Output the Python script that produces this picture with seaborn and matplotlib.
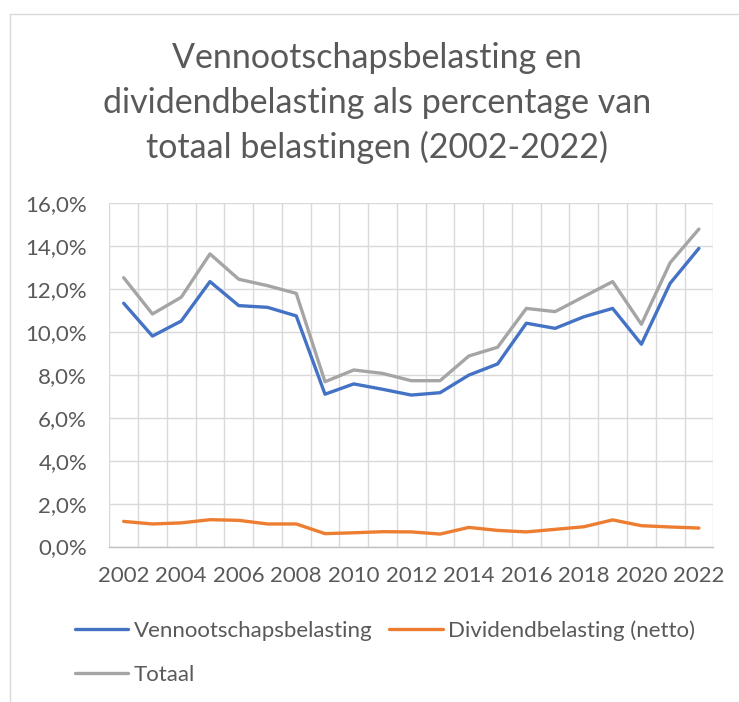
import matplotlib
matplotlib.use("Agg")
import matplotlib.pyplot as plt
from matplotlib.lines import Line2D
from matplotlib.ticker import FuncFormatter, MultipleLocator
import numpy as np
import pandas as pd
import seaborn as sns

# ---- data (percent of total taxes) ----
years = list(range(2002, 2023))
vennootschapsbelasting = [11.34, 9.81, 10.51, 12.35, 11.23, 11.15, 10.75, 7.10, 7.58, 7.33, 7.06,
                          7.17, 7.99, 8.51, 10.41, 10.17, 10.71, 11.10, 9.43, 12.27, 13.90]
dividendbelasting = [1.17, 1.05, 1.10, 1.25, 1.22, 1.05, 1.05, 0.60, 0.64, 0.69, 0.68,
                     0.58, 0.89, 0.75, 0.68, 0.80, 0.92, 1.24, 0.97, 0.91, 0.86]
totaal = [12.53, 10.84, 11.62, 13.64, 12.46, 12.16, 11.80, 7.68, 8.23, 8.07, 7.73,
          7.73, 8.88, 9.29, 11.10, 10.95, 11.65, 12.35, 10.36, 13.23, 14.80]
series_names = ["Vennootschapsbelasting", "Dividendbelasting (netto)", "Totaal"]
title_lines = ["Vennootschapsbelasting en",
               "dividendbelasting als percentage van",
               "totaal belastingen (2002-2022)"]

df = pd.DataFrame({
    "jaar": years * 3,
    "waarde": vennootschapsbelasting + dividendbelasting + totaal,
    "reeks": [series_names[0]] * len(years) + [series_names[1]] * len(years) + [series_names[2]] * len(years),
})

sns.set_theme(style="white")
plt.rcParams["font.family"] = ["Lato", "DejaVu Sans"]
TXT = "#595959"
GRID = "#D9D9D9"
palette = {series_names[0]: "#4472C4", series_names[1]: "#ED7D31", series_names[2]: "#A5A5A5"}

W, H = 739, 702
fig = plt.figure(figsize=(W / 100, H / 100), dpi=100)
fig.patch.set_facecolor("white")

x0, x1 = 109.3, 713.3
y0, y1 = 203.3, 546.5
ax = fig.add_axes([x0 / W, 1 - y1 / H, (x1 - x0) / W, (y1 - y0) / H])

sns.lineplot(data=df, x="jaar", y="waarde", hue="reeks", palette=palette,
             hue_order=series_names, linewidth=2.4, ax=ax, zorder=3,
             solid_capstyle="round", solid_joinstyle="round")

ax.set_xlim(years[0] - 0.5, years[-1] + 0.5)
ax.set_ylim(0, 16)
ax.xaxis.set_major_locator(MultipleLocator(2))
ax.xaxis.set_minor_locator(MultipleLocator(1, offset=0.5))
ax.yaxis.set_major_locator(MultipleLocator(2))
ax.yaxis.set_major_formatter(FuncFormatter(lambda v, p: f"{v:.1f}%".replace(".", ",")))
ax.xaxis.set_major_formatter(FuncFormatter(lambda v, p: f"{int(round(v))}"))

ax.grid(False)
ax.grid(True, axis="y", which="major", color=GRID, linewidth=1.0)
ax.grid(True, axis="x", which="minor", color=GRID, linewidth=1.0)
ax.set_axisbelow(True)
for s in ["top", "right", "left"]:
    ax.spines[s].set_visible(False)
ax.spines["bottom"].set_color("#BFBFBF")
ax.spines["bottom"].set_linewidth(1.0)

ax.tick_params(axis="both", which="both", length=0, labelcolor=TXT)
ax.tick_params(axis="y", pad=16, labelsize=16)
ax.tick_params(axis="x", pad=14, labelsize=16)
ax.set_xlabel("")
ax.set_ylabel("")

ax.get_legend().remove()
order = [series_names[0], series_names[2], series_names[1]]
leg_handles = [Line2D([0], [0], color=palette[n], linewidth=2.4, solid_capstyle="round") for n in order]
fig.legend(leg_handles, order, loc="upper left", bbox_to_anchor=(75 / W, 1 - 620 / H),
           ncol=2, frameon=False, fontsize=16, labelcolor=TXT, handlelength=2.4,
           handletextpad=0.25, columnspacing=0.75, labelspacing=1.1, borderpad=0,
           borderaxespad=0)

for line, yb in zip(title_lines, [68, 113, 158]):
    fig.text(377 / W, 1 - yb / H, line, ha="center", va="baseline", fontsize=24.5, color=TXT)

# chart frame (left and top edges visible)
fig.add_artist(Line2D([9.5 / W, 9.5 / W], [0, 1 - 13.5 / H], transform=fig.transFigure, color=GRID, linewidth=1.0))
fig.add_artist(Line2D([9.5 / W, 1], [1 - 13.5 / H, 1 - 13.5 / H], transform=fig.transFigure, color=GRID, linewidth=1.0))

fig.savefig("out.png", dpi=100)
